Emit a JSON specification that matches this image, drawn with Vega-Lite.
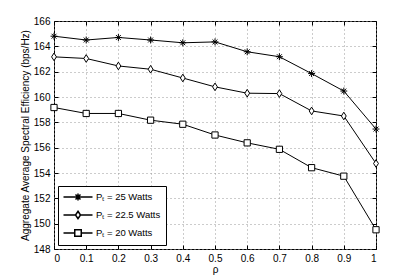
{
  "$schema": "https://vega.github.io/schema/vega-lite/v6.json",
  "width": 322,
  "height": 228,
  "autosize": {"type": "none"},
  "padding": {"left": 54, "top": 21, "right": 39, "bottom": 31},
  "background": "white",
  "config": {
    "font": "Liberation Sans",
    "view": {"stroke": "black", "strokeWidth": 1},
    "axis": {
      "labelFont": "Liberation Sans",
      "titleFont": "Liberation Sans",
      "labelFontSize": 10,
      "titleFontSize": 10,
      "titleFontWeight": "normal",
      "labelColor": "black",
      "titleColor": "black",
      "domainColor": "black",
      "tickColor": "black",
      "gridColor": "#999999",
      "gridDash": [1, 3],
      "gridOpacity": 1
    }
  },
  "data": {
    "values": [
      {"rho": 0.0, "se": 164.8, "series": "Pₜ = 25 Watts"},
      {"rho": 0.1, "se": 164.5, "series": "Pₜ = 25 Watts"},
      {"rho": 0.2, "se": 164.7, "series": "Pₜ = 25 Watts"},
      {"rho": 0.3, "se": 164.5, "series": "Pₜ = 25 Watts"},
      {"rho": 0.4, "se": 164.28, "series": "Pₜ = 25 Watts"},
      {"rho": 0.5, "se": 164.35, "series": "Pₜ = 25 Watts"},
      {"rho": 0.6, "se": 163.57, "series": "Pₜ = 25 Watts"},
      {"rho": 0.7, "se": 163.18, "series": "Pₜ = 25 Watts"},
      {"rho": 0.8, "se": 161.85, "series": "Pₜ = 25 Watts"},
      {"rho": 0.9, "se": 160.47, "series": "Pₜ = 25 Watts"},
      {"rho": 1.0, "se": 157.47, "series": "Pₜ = 25 Watts"},
      {"rho": 0.0, "se": 163.17, "series": "Pₜ = 22.5 Watts"},
      {"rho": 0.1, "se": 163.04, "series": "Pₜ = 22.5 Watts"},
      {"rho": 0.2, "se": 162.45, "series": "Pₜ = 22.5 Watts"},
      {"rho": 0.3, "se": 162.19, "series": "Pₜ = 22.5 Watts"},
      {"rho": 0.4, "se": 161.5, "series": "Pₜ = 22.5 Watts"},
      {"rho": 0.5, "se": 160.8, "series": "Pₜ = 22.5 Watts"},
      {"rho": 0.6, "se": 160.3, "series": "Pₜ = 22.5 Watts"},
      {"rho": 0.7, "se": 160.27, "series": "Pₜ = 22.5 Watts"},
      {"rho": 0.8, "se": 158.9, "series": "Pₜ = 22.5 Watts"},
      {"rho": 0.9, "se": 158.5, "series": "Pₜ = 22.5 Watts"},
      {"rho": 1.0, "se": 154.75, "series": "Pₜ = 22.5 Watts"},
      {"rho": 0.0, "se": 159.17, "series": "Pₜ = 20 Watts"},
      {"rho": 0.1, "se": 158.7, "series": "Pₜ = 20 Watts"},
      {"rho": 0.2, "se": 158.7, "series": "Pₜ = 20 Watts"},
      {"rho": 0.3, "se": 158.17, "series": "Pₜ = 20 Watts"},
      {"rho": 0.4, "se": 157.85, "series": "Pₜ = 20 Watts"},
      {"rho": 0.5, "se": 157.0, "series": "Pₜ = 20 Watts"},
      {"rho": 0.6, "se": 156.38, "series": "Pₜ = 20 Watts"},
      {"rho": 0.7, "se": 155.87, "series": "Pₜ = 20 Watts"},
      {"rho": 0.8, "se": 154.42, "series": "Pₜ = 20 Watts"},
      {"rho": 0.9, "se": 153.75, "series": "Pₜ = 20 Watts"},
      {"rho": 1.0, "se": 149.52, "series": "Pₜ = 20 Watts"}
    ]
  },
  "layer": [
    {
      "mark": {"type": "line", "color": "black", "strokeWidth": 1},
      "encoding": {
        "x": {
          "field": "rho", "type": "quantitative",
          "scale": {"domain": [0, 1], "nice": false, "zero": false},
          "axis": {
            "title": "ρ", "orient": "bottom",
            "values": [0, 0.1, 0.2, 0.3, 0.4, 0.5, 0.6, 0.7, 0.8, 0.9, 1],
            "format": ".1~f", "tickSize": -4, "labelPadding": 8,
            "titlePadding": 1, "grid": true, "domain": false
          }
        },
        "y": {
          "field": "se", "type": "quantitative",
          "scale": {"domain": [148, 166], "nice": false, "zero": false},
          "axis": {
            "title": "Aggregate Average Spectral Efficiency (bps/Hz)", "orient": "left",
            "values": [148, 150, 152, 154, 156, 158, 160, 162, 164, 166],
            "tickSize": -4, "labelPadding": 8, "titleX": -24, "titleY": 114,
            "grid": true, "domain": false
          }
        },
        "detail": {"field": "series"}
      }
    },
    {
      "mark": {"type": "point", "stroke": "black", "fill": "white", "filled": true, "strokeWidth": 1, "opacity": 1, "size": 48},
      "encoding": {
        "x": {
          "field": "rho", "type": "quantitative",
          "axis": {"orient": "top", "title": null, "labels": false, "grid": false, "domain": false, "tickSize": -4,
                   "values": [0, 0.1, 0.2, 0.3, 0.4, 0.5, 0.6, 0.7, 0.8, 0.9, 1]}
        },
        "y": {
          "field": "se", "type": "quantitative",
          "axis": {"orient": "right", "title": null, "labels": false, "grid": false, "domain": false, "tickSize": -4,
                   "values": [148, 150, 152, 154, 156, 158, 160, 162, 164, 166]}
        },
        "shape": {
          "field": "series", "type": "nominal",
          "scale": {
            "domain": ["Pₜ = 25 Watts", "Pₜ = 22.5 Watts", "Pₜ = 20 Watts"],
            "range": [
              "M-1,0H1M0,-1V1M-0.7,-0.7L0.7,0.7M-0.7,0.7L0.7,-0.7",
              "M0,-1.1L0.7,0L0,1.1L-0.7,0Z",
              "M-0.9,-0.9H0.9V0.9H-0.9Z"
            ]
          },
          "legend": null
        }
      }
    },
    {
      "transform": [{"filter": "false"}],
      "mark": {"type": "point", "stroke": "black", "fill": "white", "filled": true, "strokeWidth": 1, "opacity": 1},
      "encoding": {
        "x": {"field": "rho", "type": "quantitative", "axis": null},
        "y": {"field": "se", "type": "quantitative", "axis": null},
        "shape": {
          "field": "series", "type": "nominal",
          "scale": {
            "domain": ["Pₜ = 25 Watts", "Pₜ = 22.5 Watts", "Pₜ = 20 Watts"],
            "range": [
              "M-1.1,0H4.7M1.8,-0.7V0.7M1.3,-0.5L2.3,0.5M1.3,0.5L2.3,-0.5",
              "M-1.1,0H1.3M2.3,0H4.7M1.8,-0.75L2.3,0L1.8,0.75L1.3,0Z",
              "M-1.1,0H1.15M2.45,0H4.7M1.15,-0.65H2.45V0.65H1.15Z"
            ]
          },
          "legend": {
            "title": null,
            "orient": "bottom-left",
            "offset": 4,
            "padding": 5,
            "fillColor": "white",
            "strokeColor": "black",
            "labelFont": "Liberation Sans",
            "labelFontSize": 9.5,
            "labelColor": "black",
            "labelOffset": 21,
            "rowPadding": 4
          }
        }
      }
    }
  ],
  "resolve": {
    "axis": {"x": "independent", "y": "independent"},
    "scale": {"shape": "independent"}
  }
}
